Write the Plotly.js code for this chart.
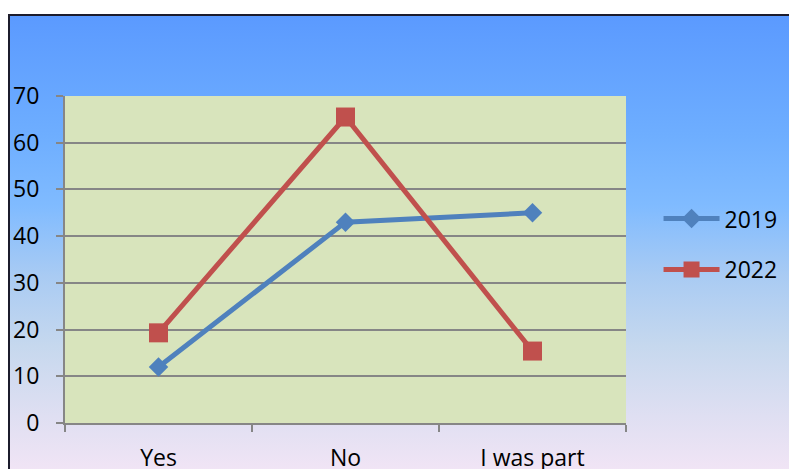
<!DOCTYPE html>
<html>
<head>
<meta charset="utf-8">
<script src="https://cdn.plot.ly/plotly-3.0.1.min.js"></script>
<style>
  html, body { margin: 0; padding: 0; background: #ffffff; overflow: hidden; }
  #frame {
    position: absolute; left: 8px; top: 14px; width: 800px; height: 470px;
    border-top: 2px solid #1c1c2c; border-left: 2px solid #1c1c2c;
    background: linear-gradient(to bottom,
      #5b9aff 0px, #6eaeff 120px, #80bbff 190px, #a9cbf3 260px,
      #c6d8ee 330px, #dfdff2 400px, #f6e6f6 470px);
  }
  #chart { position: absolute; left: 0; top: 0; width: 789px; height: 469px; }
</style>
</head>
<body>
<div id="frame"></div>
<div id="chart"></div>
<script>
// survey answers, percent of respondents
const categories = ["Yes", "No", "I was part"];
const values2019 = [12, 43, 45];
const values2022 = [19.3, 65.5, 15.4];
const yTicks = [0, 10, 20, 30, 40, 50, 60, 70];

const fontFamily = "'Open Sans', 'Noto Sans', sans-serif";

const traces = [
  {
    x: categories, y: values2019, name: "2019", type: "scatter", mode: "lines+markers",
    legendgroup: "a",
    line: { color: "#4f81bd", width: 5 },
    marker: { symbol: "diamond", size: 15, color: "#4f81bd" }
  },
  {
    x: categories, y: values2022, name: "2022", type: "scatter", mode: "lines+markers",
    legendgroup: "b",
    line: { color: "#c0504d", width: 5 },
    marker: { symbol: "square", size: 19, color: "#c0504d" }
  }
];

const layout = {
  width: 789, height: 469,
  margin: { l: 65, r: 163, t: 96, b: 46, pad: 0, autoexpand: false },
  paper_bgcolor: "rgba(0,0,0,0)",
  plot_bgcolor: "#d8e4bc",
  font: { family: fontFamily, size: 23, color: "#000000" },
  showlegend: true,
  legend: {
    x: 1.058, y: 0.547, xanchor: "left", yanchor: "middle",
    itemwidth: 56,
    bgcolor: "rgba(0,0,0,0)", traceorder: "grouped", tracegroupgap: 18,
    font: { family: fontFamily, size: 23, color: "#000000" }
  },
  xaxis: {
    type: "category", range: [-0.5, 2.5], fixedrange: true,
    showline: true, linecolor: "#868686", linewidth: 2,
    ticks: "outside", tickson: "boundaries", ticklen: 7, tickwidth: 2, tickcolor: "#868686",
    ticklabelstandoff: 13,
    showgrid: false, zeroline: false
  },
  yaxis: {
    range: [0, 70], tickvals: yTicks, ticktext: yTicks.map(String), fixedrange: true,
    showline: true, linecolor: "#868686", linewidth: 2,
    ticks: "outside", ticklen: 7, tickwidth: 2, tickcolor: "#868686",
    ticklabelstandoff: 12,
    showgrid: true, gridcolor: "#868686", gridwidth: 2, zeroline: false
  }
};

Plotly.newPlot("chart", traces, layout, { displayModeBar: false, staticPlot: true });
</script>
</body>
</html>
